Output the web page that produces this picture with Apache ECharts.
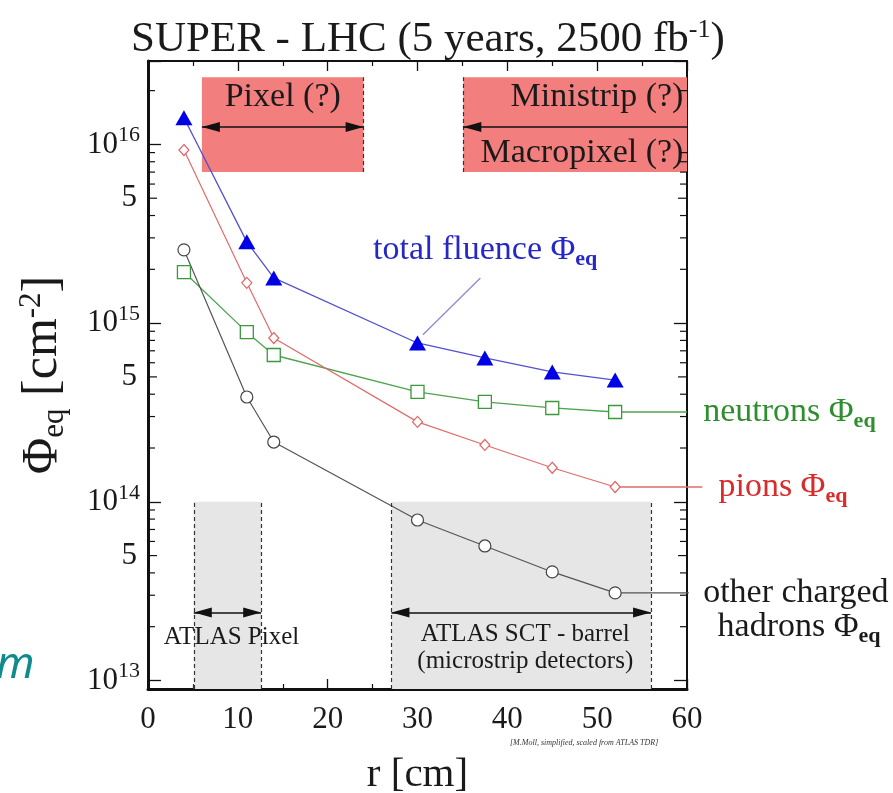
<!DOCTYPE html>
<html>
<head>
<meta charset="utf-8">
<script src="https://cdn.jsdelivr.net/npm/echarts@6/dist/echarts.min.js"></script>
<style>
html, body { margin: 0; padding: 0; background: #fff; }
#main { width: 893px; height: 793px; }
</style>
</head>
<body>
<div id="main"></div>
<script>
// radius of the layers [cm]
var radius = [4, 11, 14, 30, 37.5, 45, 52];
// equivalent fluences [cm^-2]
var totalFluence = [1.41e16, 2.85e15, 1.79e15, 7.74e14, 6.38e14, 5.33e14, 4.80e14];
var neutrons = [1.93e15, 8.90e14, 6.63e14, 4.12e14, 3.62e14, 3.35e14, 3.18e14];
var pions = [9.30e15, 1.68e15, 8.25e14, 2.80e14, 2.08e14, 1.55e14, 1.21e14];
var otherHadrons = [2.57e15, 3.86e14, 2.16e14, 7.91e13, 5.66e13, 4.05e13, 3.09e13];
// where the curves run on to their labels (r)
var neutronsEnd = 60, pionsEnd = 61.7, otherEnd = 60.2;

// axes
var xTicks = [0, 10, 20, 30, 40, 50, 60];
var yMin = 8.96e12, yMax = 2.93e16;
var yMajorExp = [13, 14, 15, 16];
var yFiveLabels = [5e13, 5e14, 5e15];
var yMinorMult = [2, 3, 4, 5, 6, 7, 8, 9];

// detector regions
var pixelFuture = [6, 24];
var ministripFuture = [35.1, 60];
var futureBand = [7.02e15, 2.38e16];
var futureArrowAt = 1.25e16;
var atlasPixel = [5.1, 12.6];
var atlasSct = [27.1, 56];
var atlasTop = 1e14;
var atlasArrowAt = 2.4e13;

// labels in the plot: [r, value, text]
var notes = [
  [15, 1.84e16, 'Pixel (?)'],
  [59.6, 1.84e16, 'Ministrip (?)'],
  [59.6, 8.96e15, 'Macropixel (?)'],
  [9.3, 1.75e13, 'ATLAS Pixel'],
  [42, 1.8e13, 'ATLAS SCT - barrel'],
  [42, 1.27e13, '(microstrip detectors)'],
  [25.05, 2.57e15, '{t|total fluence Φ}{s|eq}'],
  [61.8, 3.18e14, '{t|neutrons Φ}{s|eq}'],
  [63.5, 1.21e14, '{t|pions Φ}{s|eq}'],
  [61.8, 3.09e13, 'other charged'],
  [63.4, 1.99e13, '{t|hadrons Φ}{s|eq}']
];
var totalLeader = [[37.0, 1.79e15], [30.6, 8.6e14]];

var SERIF = 'Liberation Serif';
var noteStyle = [
  { c: '#1a1a1a', size: 34, align: 'center' },
  { c: '#1a1a1a', size: 34, align: 'right' },
  { c: '#1a1a1a', size: 34, align: 'right' },
  { c: '#1a1a1a', size: 25, align: 'center' },
  { c: '#1a1a1a', size: 25, align: 'center' },
  { c: '#1a1a1a', size: 25, align: 'center' },
  { c: '#2727c8', size: 34, align: 'left' },
  { c: '#2f8f2f', size: 34, align: 'left' },
  { c: '#d92b2b', size: 34, align: 'left' },
  { c: '#1a1a1a', size: 34, align: 'left' },
  { c: '#1a1a1a', size: 34, align: 'left' }
];

function pairs(xs, ys) {
  return xs.map(function (x, i) { return [x, ys[i]]; });
}

var minorTicks = [];
for (var d = 12; d <= 16; d++) {
  yMinorMult.forEach(function (m) {
    var v = m * Math.pow(10, d);
    if (v > yMin && v < yMax) minorTicks.push([0, v]);
  });
}

// horizontal run-outs from the last point to the label: [rFrom, value, rTo, colour]
var last = radius.length - 1;
var runOuts = [
  [radius[last], neutrons[last], neutronsEnd, '#4ea34e'],
  [radius[last], pions[last], pionsEnd, '#e26a6a'],
  [radius[last], otherHadrons[last], otherEnd, '#555']
];

var myChart = echarts.init(document.getElementById('main'));

var tickLabelStyle = { fontFamily: SERIF, fontSize: 31, color: '#1a1a1a' };

var option = {
  animation: false,
  backgroundColor: '#fff',
  title: {
    text: '{t|SUPER - LHC (5 years, 2500 fb}{u|-1}{t|)}',
    left: 126,
    top: 12,
    textStyle: {
      fontWeight: 'normal',
      rich: {
        t: { fontFamily: SERIF, fontSize: 43, fontWeight: 'normal', color: '#1a1a1a', lineHeight: 46 },
        u: { fontFamily: SERIF, fontSize: 26, fontWeight: 'normal', color: '#1a1a1a', verticalAlign: 'top', lineHeight: 26 }
      }
    }
  },
  graphic: [
    {
      type: 'text', left: 510, top: 739,
      style: { text: '[M.Moll, simplified, scaled from ATLAS TDR]', font: 'italic 8px "Liberation Serif"', fill: '#333' }
    },
    {
      type: 'text', left: -4, top: 643,
      style: { text: 'm', font: 'italic 44px "Noto Sans"', fill: '#0f8b8d' }
    }
  ],
  grid: { left: 148, right: 206, top: 61, bottom: 104, show: false, outerBoundsMode: 'none', containLabel: false },
  xAxis: [{
    type: 'value', min: 0, max: 60, interval: 10, position: 'bottom',
    name: 'r [cm]', nameLocation: 'middle', nameGap: 66,
    nameTextStyle: { fontFamily: SERIF, fontSize: 41, color: '#1a1a1a' },
    axisLine: { onZero: false, lineStyle: { color: '#111', width: 3 } },
    axisTick: { inside: true, length: 10, lineStyle: { color: '#111', width: 1.3 } },
    minorTick: { show: true, splitNumber: 2, length: 5, lineStyle: { color: '#111', width: 1.2 } },
    axisLabel: Object.assign({ margin: 15, formatter: function (v) {
      return xTicks.indexOf(v) >= 0 ? String(v) : '';
    } }, tickLabelStyle),
    splitLine: { show: false }
  }, {
    type: 'value', min: 0, max: 60, interval: 10, position: 'top',
    axisLine: { onZero: false, lineStyle: { color: '#111', width: 2 } },
    axisTick: { inside: true, length: 10, lineStyle: { color: '#111', width: 1.3 } },
    minorTick: { show: true, splitNumber: 2, length: 5, lineStyle: { color: '#111', width: 1.2 } },
    axisLabel: { show: false },
    splitLine: { show: false }
  }],
  yAxis: [{
    type: 'log', min: yMin, max: yMax, position: 'left',
    name: '{p|Φ}{s|eq}{p| [cm}{u|-2}{p|]}',
    nameLocation: 'middle', nameGap: 78, nameRotate: 90,
    nameTextStyle: {
      rich: {
        p: { fontFamily: SERIF, fontSize: 50, color: '#1a1a1a', lineHeight: 54 },
        s: { fontFamily: SERIF, fontSize: 31, color: '#1a1a1a', verticalAlign: 'bottom', lineHeight: 31 },
        u: { fontFamily: SERIF, fontSize: 31, color: '#1a1a1a', verticalAlign: 'top', lineHeight: 31 }
      }
    },
    axisLine: { onZero: false, lineStyle: { color: '#111', width: 3 } },
    axisTick: { inside: true, length: 13, lineStyle: { color: '#111', width: 1.3 } },
    axisLabel: {
      margin: 8,
      formatter: function (v) {
        var e = Math.log10(v), r = Math.round(e);
        if (Math.abs(e - r) > 1e-6 || yMajorExp.indexOf(r) < 0) return '';
        return '{b|10}{u|' + r + '}';
      },
      rich: {
        b: { fontFamily: SERIF, fontSize: 31, color: '#1a1a1a', lineHeight: 40 },
        u: { fontFamily: SERIF, fontSize: 22, color: '#1a1a1a', verticalAlign: 'top', lineHeight: 22 }
      }
    },
    splitLine: { show: false }
  }, {
    type: 'log', min: yMin, max: yMax, position: 'right',
    axisLine: { onZero: false, lineStyle: { color: '#111', width: 2 } },
    axisTick: { inside: true, length: 13, lineStyle: { color: '#111', width: 1.3 } },
    axisLabel: { show: false },
    splitLine: { show: false }
  }],
  series: [
    {
      // detector regions, drawn under the curves
      name: 'regions', type: 'line', data: [], z: 1, silent: true,
      markArea: {
        silent: true, label: { show: false },
        data: [
          [{ coord: [pixelFuture[0], futureBand[0]], itemStyle: { color: '#f37e7e', opacity: 1 } }, { coord: [pixelFuture[1], futureBand[1]] }],
          [{ coord: [ministripFuture[0], futureBand[0]], itemStyle: { color: '#f37e7e', opacity: 1 } }, { coord: [ministripFuture[1], futureBand[1]] }],
          [{ coord: [atlasPixel[0], yMin], itemStyle: { color: '#e6e6e6', opacity: 1 } }, { coord: [atlasPixel[1], atlasTop] }],
          [{ coord: [atlasSct[0], yMin], itemStyle: { color: '#e6e6e6', opacity: 1 } }, { coord: [atlasSct[1], atlasTop] }]
        ]
      },
      markLine: {
        silent: true, symbol: ['none', 'none'], label: { show: false },
        lineStyle: { color: '#333', width: 1.2, type: [4, 3] },
        data: [
          [{ coord: [pixelFuture[1], futureBand[0]] }, { coord: [pixelFuture[1], futureBand[1]] }],
          [{ coord: [ministripFuture[0], futureBand[0]] }, { coord: [ministripFuture[0], futureBand[1]] }],
          [{ coord: [atlasPixel[0], yMin] }, { coord: [atlasPixel[0], atlasTop] }],
          [{ coord: [atlasPixel[1], yMin] }, { coord: [atlasPixel[1], atlasTop] }],
          [{ coord: [atlasSct[0], yMin] }, { coord: [atlasSct[0], atlasTop] }],
          [{ coord: [atlasSct[1], yMin] }, { coord: [atlasSct[1], atlasTop] }],
          // arrows
          [{ coord: [pixelFuture[0], futureArrowAt], symbol: 'triangle', symbolSize: [10, 18], symbolOffset: [0, 9], lineStyle: { type: 'solid', color: '#111', width: 1.5 } },
           { coord: [pixelFuture[1], futureArrowAt], symbol: 'triangle', symbolSize: [10, 18], symbolOffset: [0, 9] }],
          [{ coord: [ministripFuture[0], futureArrowAt], symbol: 'triangle', symbolSize: [10, 18], symbolOffset: [0, 9], lineStyle: { type: 'solid', color: '#111', width: 1.5 } },
           { coord: [ministripFuture[1], futureArrowAt], symbol: 'none' }],
          [{ coord: [atlasPixel[0], atlasArrowAt], symbol: 'triangle', symbolSize: [10, 18], symbolOffset: [0, 9], lineStyle: { type: 'solid', color: '#111', width: 1.5 } },
           { coord: [atlasPixel[1], atlasArrowAt], symbol: 'triangle', symbolSize: [10, 18], symbolOffset: [0, 9] }],
          [{ coord: [atlasSct[0], atlasArrowAt], symbol: 'triangle', symbolSize: [10, 18], symbolOffset: [0, 9], lineStyle: { type: 'solid', color: '#111', width: 1.5 } },
           { coord: [atlasSct[1], atlasArrowAt], symbol: 'triangle', symbolSize: [10, 18], symbolOffset: [0, 9] }]
        ]
      }
    },
    {
      name: 'total fluence', type: 'line', z: 4,
      data: pairs(radius, totalFluence),
      symbol: 'triangle', symbolSize: [17, 15],
      itemStyle: { color: '#0000e6', borderWidth: 0 },
      lineStyle: { color: '#5151cf', width: 1.3 }
    },
    {
      name: 'total leader', type: 'line', z: 3, data: totalLeader,
      symbol: 'none', lineStyle: { color: '#8a8ad8', width: 1.3 }
    },
    {
      name: 'neutrons', type: 'line', z: 3,
      data: pairs(radius, neutrons),
      symbol: 'rect', symbolSize: 13,
      itemStyle: { color: '#fff', borderColor: '#3a993a', borderWidth: 1.3 },
      lineStyle: { color: '#4ea34e', width: 1.3 }
    },
    {
      name: 'pions', type: 'line', z: 3,
      data: pairs(radius, pions),
      symbol: 'diamond', symbolSize: [10, 11],
      itemStyle: { color: '#fff', borderColor: '#e06464', borderWidth: 1.2 },
      lineStyle: { color: '#e26a6a', width: 1.2 }
    },
    {
      name: 'other charged hadrons', type: 'line', z: 3,
      data: pairs(radius, otherHadrons),
      symbol: 'circle', symbolSize: 12,
      itemStyle: { color: '#fff', borderColor: '#444', borderWidth: 1.2 },
      lineStyle: { color: '#555', width: 1.2 }
    },
    {
      // lines from the last point out to the curve labels
      name: 'run-outs', type: 'custom', z: 2, silent: true, clip: false,
      data: runOuts.map(function (o, i) { return [o[0], o[1], o[2], i]; }),
      renderItem: function (params, api) {
        var a = api.coord([api.value(0), api.value(1)]);
        var b = api.coord([api.value(2), api.value(1)]);
        return {
          type: 'line', shape: { x1: a[0], y1: a[1], x2: b[0], y2: b[1] },
          style: { stroke: runOuts[api.value(3)][3], lineWidth: 1.3 }
        };
      }
    },
    {
      // minor ticks of the log axis (2..9 per decade) plus the "5" labels
      name: 'minor ticks', type: 'custom', z: 6, silent: true, clip: false,
      data: minorTicks,
      renderItem: function (params, api) {
        var v = api.value(1);
        var l = api.coord([0, v]);
        var r = api.coord([60, v]);
        var isFive = yFiveLabels.some(function (f) { return Math.abs(f - v) / f < 1e-6; });
        var len = isFive ? 9 : 7;
        var kids = [
          { type: 'line', shape: { x1: l[0], y1: l[1], x2: l[0] + len, y2: l[1] }, style: { stroke: '#111', lineWidth: 1.2 } },
          { type: 'line', shape: { x1: r[0] - len, y1: r[1], x2: r[0], y2: r[1] }, style: { stroke: '#111', lineWidth: 1.2 } }
        ];
        if (isFive) {
          kids.push({
            type: 'text', x: l[0] - 11, y: l[1],
            style: { text: '5', fill: '#1a1a1a', font: '31px "Liberation Serif"', align: 'right', textAlign: 'right', verticalAlign: 'middle', textVerticalAlign: 'middle' }
          });
        }
        return { type: 'group', children: kids };
      }
    },
    {
      name: 'notes', type: 'custom', z: 5, silent: true, clip: false,
      data: notes.map(function (n, i) { return [n[0], n[1], i]; }),
      renderItem: function (params, api) {
        var i = api.value(2);
        var p = api.coord([api.value(0), api.value(1)]);
        var st = noteStyle[i];
        return {
          type: 'text', x: p[0], y: p[1],
          style: {
            text: notes[i][2], fill: st.c,
            font: st.size + 'px "Liberation Serif"',
            align: st.align, textAlign: st.align,
            verticalAlign: 'middle', textVerticalAlign: 'middle',
            rich: {
              t: { fill: st.c, fontFamily: SERIF, fontSize: st.size, lineHeight: 40 },
              s: { fill: st.c, fontFamily: SERIF, fontSize: 22, verticalAlign: 'bottom', lineHeight: 22, fontWeight: 'bold' }
            }
          }
        };
      }
    }
  ]
};

myChart.setOption(option);
</script>
</body>
</html>
